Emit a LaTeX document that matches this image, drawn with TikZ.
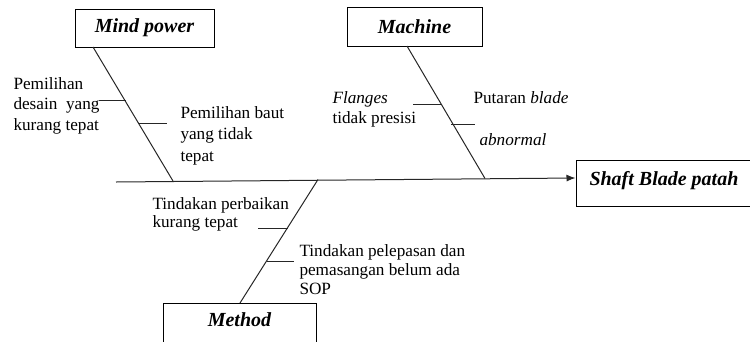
\documentclass[tikz,border=0pt]{standalone}
\usepackage{fontspec}
\setmainfont{Liberation Serif}
\usetikzlibrary{arrows.meta}
\begin{document}
\begin{tikzpicture}[x=1pt,y=-1pt,
  line width=1pt,
  frame/.style={draw,line width=1pt,inner sep=0pt},
  title/.style={inner sep=0pt,font=\fontsize{20}{24}\selectfont\bfseries\itshape},
  catbox/.style={frame,title},
  cause/.style={anchor=base west,inner sep=0pt,align=left,font=\fontsize{17.2}{#1}\selectfont},
  cause/.default=20,
  bone/.style={line width=1pt,draw=black!85},
  rib/.style={line width=1pt,draw=black!85}]
\useasboundingbox (0,0) rectangle (750,341);
\clip (0,0) rectangle (750,341);

% category boxes
\node[catbox,minimum width=139pt,minimum height=38pt] (mind) at (144.5,28) {Mind power};
\node[catbox,minimum width=135pt,minimum height=39pt] (machine) at (414.5,26.5) {Machine};
\node[frame,minimum width=153pt,minimum height=80pt] (method) at (239.5,343) {};
\node[title,anchor=base] (methodtext) at (239.5,326) {Method};
\node[frame,minimum width=180pt,minimum height=46pt] (effect) at (666,183) {};
\node[title,anchor=base west] (effecttext) at (589,185) {Shaft Blade patah};

% main spine
\coordinate (tail) at (116,182);
\draw[bone,-{Latex[length=9pt,width=7pt]}] (tail) -- (effect.west |- 0,178);

% branch bones
\coordinate (mtop) at (93,47);
\coordinate (mfoot) at (173,181);
\coordinate (ctop) at (407,46);
\coordinate (cfoot) at (485,178.5);
\coordinate (dtop) at (318,179.5);
\coordinate (dfoot) at (240,303);
\draw[bone] (mtop) -- (mfoot);
\draw[bone] (ctop) -- (cfoot);
\draw[bone] (dtop) -- (dfoot);

% ribs
\coordinate (m1a) at (99,100);  \coordinate (m1b) at (126,100);
\coordinate (m2a) at (139,123); \coordinate (m2b) at (167,123);
\coordinate (c1a) at (413,104); \coordinate (c1b) at (441,104);
\coordinate (c2a) at (451,124); \coordinate (c2b) at (475,124);
\coordinate (d1a) at (258,228); \coordinate (d1b) at (288,228);
\coordinate (d2a) at (267,261); \coordinate (d2b) at (294,261);
\draw[rib] (m1a) -- (m1b);
\draw[rib] (m2a) -- (m2b);
\draw[rib] (c1a) -- (c1b);
\draw[rib] (c2a) -- (c2b);
\draw[rib] (d1a) -- (d1b);
\draw[rib] (d2a) -- (d2b);

% causes (a multi-line node sits on the baseline of its last line)
\node[cause=20.5] (t1) at (13,130) {Pemilihan\\desain\ \ yang\\kurang tepat};
\node[cause=21.5] (t2) at (180,161) {Pemilihan baut\\yang tidak\\tepat};
\node[cause=20] (t3) at (332,123) {\textit{Flanges}\\tidak presisi};
\node[cause] (t4) at (473,103) {Putaran \textit{blade}};
\node[cause] (t5) at (479,145) {\textit{abnormal}};
\node[cause=18] (t6) at (152,227) {Tindakan perbaikan\\kurang tepat};
\node[cause=19] (t7) at (299,294) {Tindakan pelepasan dan\\pemasangan belum ada\\SOP};
\end{tikzpicture}
\end{document}
